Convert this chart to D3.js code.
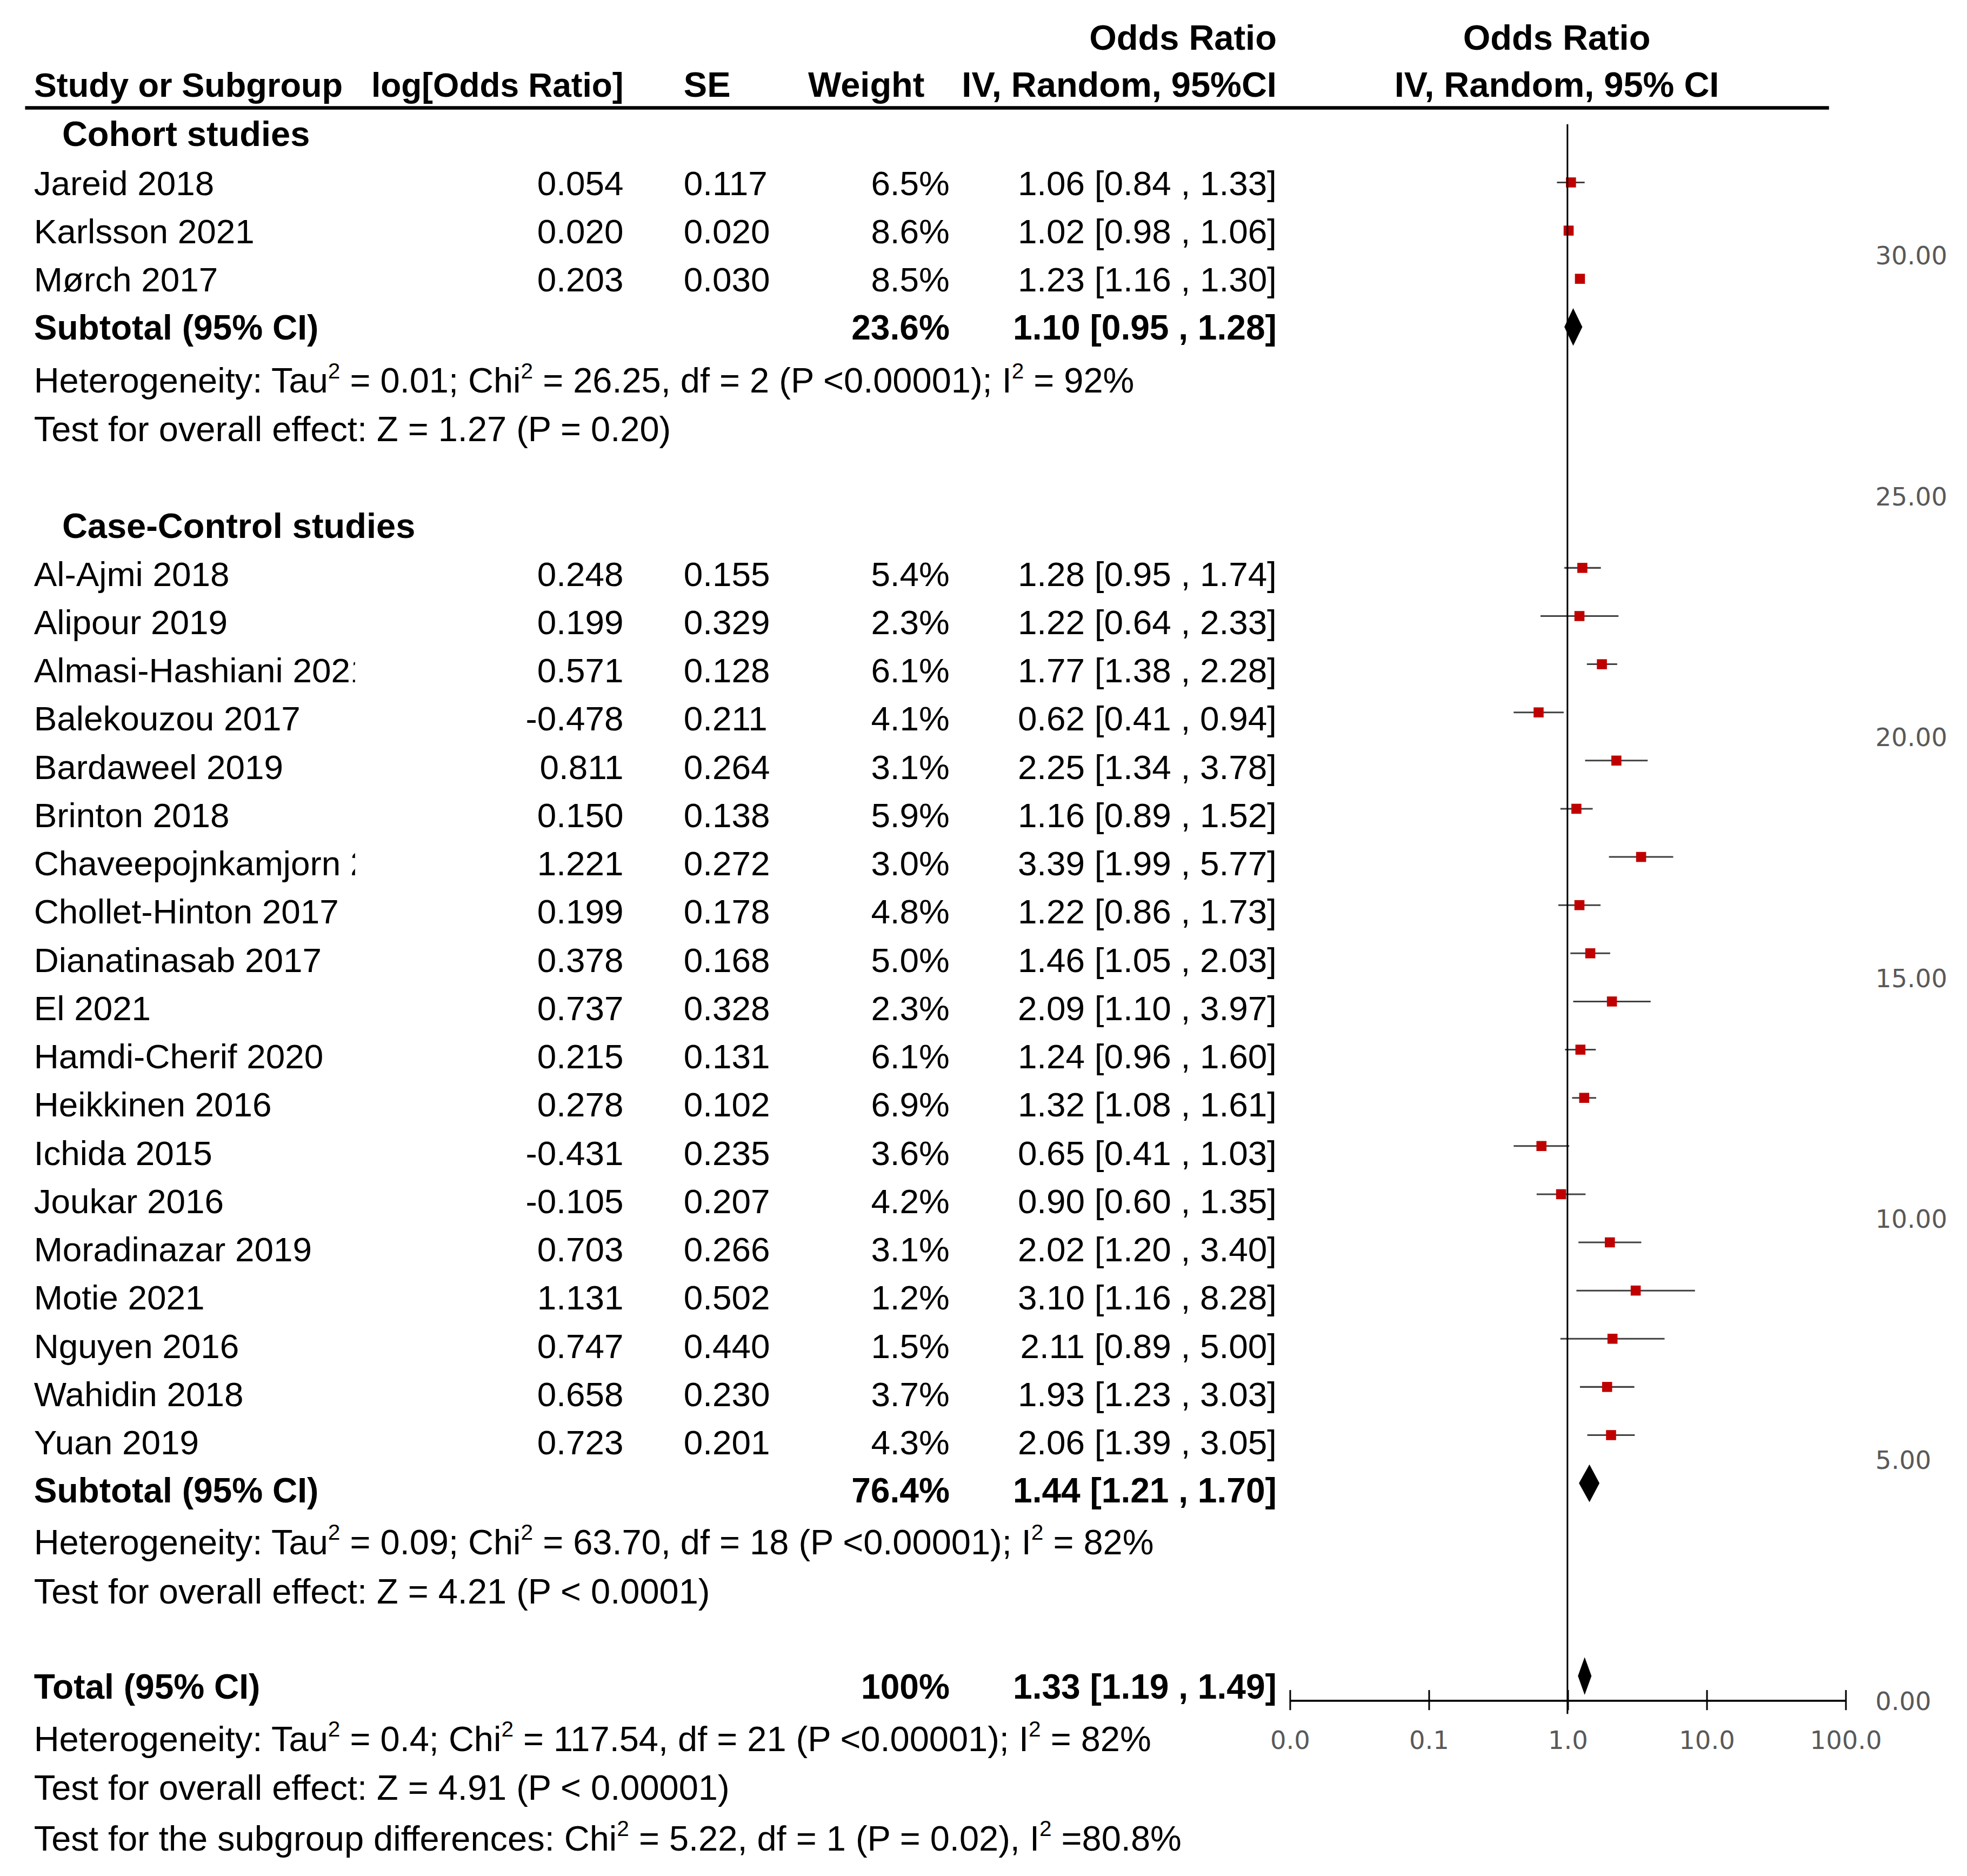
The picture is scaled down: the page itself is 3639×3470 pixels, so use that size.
<!DOCTYPE html>
<html>
<head>
<meta charset="utf-8">
<script src="https://cdn.jsdelivr.net/npm/d3@7"></script>
<style>
  html, body { margin: 0; padding: 0; background: #fff; }
  svg { display: block; }
  text { font-family: "Liberation Sans", Arial, sans-serif; fill: #000; }
</style>
</head>
<body>
<div id="chart"></div>
<script>
// cohort studies
var cohortNames = ['Jareid 2018', 'Karlsson 2021', 'Mørch 2017'];
var cohortLogOR = [0.054, 0.020, 0.203];
var cohortSE = [0.117, 0.020, 0.030];
var cohortWeight = [6.5, 8.6, 8.5];
var cohortOR = [1.06, 1.02, 1.23];
var cohortLo = [0.84, 0.98, 1.16];
var cohortHi = [1.33, 1.06, 1.30];

// case-control studies
var ccNames = ['Al-Ajmi 2018', 'Alipour 2019', 'Almasi-Hashiani 2021', 'Balekouzou 2017',
  'Bardaweel 2019', 'Brinton 2018', 'Chaveepojnkamjorn 2021', 'Chollet-Hinton 2017',
  'Dianatinasab 2017', 'El 2021', 'Hamdi-Cherif 2020', 'Heikkinen 2016', 'Ichida 2015',
  'Joukar 2016', 'Moradinazar 2019', 'Motie 2021', 'Nguyen 2016', 'Wahidin 2018', 'Yuan 2019'];
var ccLogOR = [0.248, 0.199, 0.571, -0.478, 0.811, 0.150, 1.221, 0.199, 0.378, 0.737,
  0.215, 0.278, -0.431, -0.105, 0.703, 1.131, 0.747, 0.658, 0.723];
var ccSE = [0.155, 0.329, 0.128, 0.211, 0.264, 0.138, 0.272, 0.178, 0.168, 0.328,
  0.131, 0.102, 0.235, 0.207, 0.266, 0.502, 0.440, 0.230, 0.201];
var ccWeight = [5.4, 2.3, 6.1, 4.1, 3.1, 5.9, 3.0, 4.8, 5.0, 2.3, 6.1, 6.9, 3.6, 4.2, 3.1, 1.2, 1.5, 3.7, 4.3];
var ccOR = [1.28, 1.22, 1.77, 0.62, 2.25, 1.16, 3.39, 1.22, 1.46, 2.09, 1.24, 1.32, 0.65, 0.90, 2.02, 3.10, 2.11, 1.93, 2.06];
var ccLo = [0.95, 0.64, 1.38, 0.41, 1.34, 0.89, 1.99, 0.86, 1.05, 1.10, 0.96, 1.08, 0.41, 0.60, 1.20, 1.16, 0.89, 1.23, 1.39];
var ccHi = [1.74, 2.33, 2.28, 0.94, 3.78, 1.52, 5.77, 1.73, 2.03, 3.97, 1.60, 1.61, 1.03, 1.35, 3.40, 8.28, 5.00, 3.03, 3.05];

// pooled estimates: cohort subtotal, case-control subtotal, total
var pooledWeight = [23.6, 76.4, 100];
var pooledOR = [1.10, 1.44, 1.33];
var pooledLo = [0.95, 1.21, 1.19];
var pooledHi = [1.28, 1.70, 1.49];

var cohortStats = ['Heterogeneity: Tau² = 0.01; Chi² = 26.25, df = 2 (P <0.00001); I² = 92%',
  'Test for overall effect: Z = 1.27 (P = 0.20)'];
var ccStats = ['Heterogeneity: Tau² = 0.09; Chi² = 63.70, df = 18 (P <0.00001); I² = 82%',
  'Test for overall effect: Z = 4.21 (P < 0.0001)'];
var totalStats = ['Heterogeneity: Tau² = 0.4; Chi² = 117.54, df = 21 (P <0.00001); I² = 82%',
  'Test for overall effect: Z = 4.91 (P < 0.00001)',
  'Test for the subgroup differences: Chi² = 5.22, df = 1 (P = 0.02), I² =80.8%'];

var xTicks = [0.01, 0.1, 1, 10, 100];
var yTicks = [0, 5, 10, 15, 20, 25, 30];

var W = 1568, H = 1495.2,
    fsStat = 28,
    fsRow = 27.5,
    rowStep = 38.45,
    col = { name: 27, group: 49.5, logor: 497, se: 545, weight: 757, ci: 1017.7, plot: 1241 };

var svg = d3.select('#chart')
  .append('svg')
  .attr('width', 3639)
  .attr('height', 3470)
  .attr('viewBox', '0 0 ' + W + ' ' + H);

svg.append('rect').attr('width', W).attr('height', H).attr('fill', '#fff');

// long study names are cut off by the column edge
svg.append('defs').append('clipPath').attr('id', 'nameClip')
  .append('rect').attr('x', 0).attr('y', 0).attr('width', 283).attr('height', H);

var x = d3.scaleLog().domain([0.01, 100]).range([1028, 1471]);
var y = d3.scaleLinear().domain([0, 30]).range([1355, 203]);

function addText(g, str, px, py, anchor, bold, size) {
  size = size || fsStat;
  var t = g.append('text')
    .attr('x', px)
    .attr('y', py)
    .attr('text-anchor', anchor || 'start')
    .attr('font-size', size);
  if (bold) t.attr('font-weight', 'bold');
  str.split('²').forEach(function(p, i) {
    if (i > 0) {
      t.append('tspan').attr('dy', -11.5).attr('font-size', 17.5).text('2');
      t.append('tspan').attr('dy', 11.5).text(p);
    } else {
      t.append('tspan').text(p);
    }
  });
  return t;
}

function fmtW(w) { return w === 100 ? '100%' : w.toFixed(1) + '%'; }
function fmtCI(o, l, h) { return o.toFixed(2) + ' [' + l.toFixed(2) + ' , ' + h.toFixed(2) + ']'; }

var table = svg.append('g');
var plot = svg.append('g');

// header
addText(table, 'Odds Ratio', col.ci, 39.5, 'end', true);
addText(table, 'Odds Ratio', col.plot, 39.5, 'middle', true);
addText(table, 'Study or Subgroup', col.name, 77, 'start', true, 27.2);
addText(table, 'log[Odds Ratio]', col.logor, 77, 'end', true, 26.8);
addText(table, 'SE', col.se, 77, 'start', true);
addText(table, 'Weight', 737, 77, 'end', true);
addText(table, 'IV, Random, 95%CI', col.ci, 77, 'end', true);
addText(table, 'IV, Random, 95% CI', col.plot, 77, 'middle', true);
table.append('line')
  .attr('x1', 20).attr('x2', 1458)
  .attr('y1', 86).attr('y2', 86)
  .attr('stroke', '#000').attr('stroke-width', 2.8);

function studyBlock(names, lor, se, wt, or, lo, hi, base, yStart) {
  var data = names.map(function(n, i) {
    return { name: n, lor: lor[i], se: se[i], w: wt[i], or: or[i], lo: lo[i], hi: hi[i],
             by: base + i * rowStep, yv: yStart - i };
  });
  data.forEach(function(d) {
    addText(table, d.name, col.name, d.by, 'start', false, fsRow).attr('clip-path', 'url(#nameClip)');
    addText(table, d.lor.toFixed(3), col.logor, d.by, 'end', false, fsRow);
    addText(table, d.se.toFixed(3), col.se, d.by, 'start', false, fsRow);
    addText(table, fmtW(d.w), col.weight, d.by, 'end', false, fsRow);
    addText(table, fmtCI(d.or, d.lo, d.hi), col.ci, d.by, 'end', false, fsRow);
  });

  var g = plot.append('g');
  g.selectAll('line').data(data).enter().append('line')
    .attr('x1', function(d) { return x(d.lo); })
    .attr('x2', function(d) { return x(d.hi); })
    .attr('y1', function(d) { return y(d.yv); })
    .attr('y2', function(d) { return y(d.yv); })
    .attr('stroke', '#404040')
    .attr('stroke-width', 1.3);
  g.selectAll('rect').data(data).enter().append('rect')
    .attr('x', function(d) { return x(d.or) - 4; })
    .attr('y', function(d) { return y(d.yv) - 4; })
    .attr('width', 8)
    .attr('height', 8)
    .attr('fill', '#C00000');
}

function pooledRow(label, k, by, yv) {
  addText(table, label, col.name, by, 'start', true, 27.6);
  addText(table, fmtW(pooledWeight[k]), col.weight, by, 'end', true, 27.6);
  addText(table, fmtCI(pooledOR[k], pooledLo[k], pooledHi[k]), col.ci, by, 'end', true, 27.6);
  var cy = y(yv);
  plot.append('path')
    .attr('d', 'M' + x(pooledLo[k]) + ',' + cy +
               'L' + x(pooledOR[k]) + ',' + (cy - 15) +
               'L' + x(pooledHi[k]) + ',' + cy +
               'L' + x(pooledOR[k]) + ',' + (cy + 15) + 'Z')
    .attr('fill', '#000');
}

// cohort block
addText(table, 'Cohort studies', col.group, 116.3, 'start', true);
studyBlock(cohortNames, cohortLogOR, cohortSE, cohortWeight, cohortOR, cohortLo, cohortHi, 155.4, 31.5);
pooledRow('Subtotal (95% CI)', 0, 155.4 + 3 * rowStep, 28.5);
addText(table, cohortStats[0], col.name, 313);
addText(table, cohortStats[1], col.name, 351.5);

// case-control block
addText(table, 'Case-Control studies', col.group, 428.6, 'start', true);
studyBlock(ccNames, ccLogOR, ccSE, ccWeight, ccOR, ccLo, ccHi, 467, 23.5);
pooledRow('Subtotal (95% CI)', 1, 467 + 19 * rowStep, 4.5);
addText(table, ccStats[0], col.name, 1238.7);
addText(table, ccStats[1], col.name, 1278);

// overall
pooledRow('Total (95% CI)', 2, 1354, 0.5);
addText(table, totalStats[0], col.name, 1395.6);
addText(table, totalStats[1], col.name, 1434.5);
addText(table, totalStats[2], col.name, 1475);

// line of no effect
plot.append('line')
  .attr('x1', x(1)).attr('x2', x(1))
  .attr('y1', 99).attr('y2', 1366)
  .attr('stroke', '#000').attr('stroke-width', 1.3);

// bottom odds ratio axis
var xAxis = svg.append('g')
  .attr('transform', 'translate(0,' + y(0) + ')')
  .call(d3.axisBottom(x).tickValues(xTicks).tickFormat(d3.format('.1f')).tickSizeOuter(0))
  .attr('font-size', 20);
xAxis.select('.domain').attr('stroke', '#000').attr('stroke-width', 1.6);
xAxis.selectAll('.tick line')
  .attr('y1', -8).attr('y2', 8)
  .attr('stroke', '#000').attr('stroke-width', 1.3);
xAxis.selectAll('.tick text')
  .attr('y', 39).attr('dy', 0)
  .style('font-family', '"DejaVu Sans", sans-serif')
  .style('fill', '#595959');

// right value axis (labels only)
var yAxis = svg.append('g')
  .attr('transform', 'translate(1495,0)')
  .call(d3.axisRight(y).tickValues(yTicks).tickFormat(d3.format('.2f')).tickSize(0))
  .attr('font-size', 20);
yAxis.select('.domain').remove();
yAxis.selectAll('.tick text')
  .attr('x', 0).attr('dy', '0.36em')
  .style('font-family', '"DejaVu Sans", sans-serif')
  .style('fill', '#595959');
</script>
</body>
</html>
